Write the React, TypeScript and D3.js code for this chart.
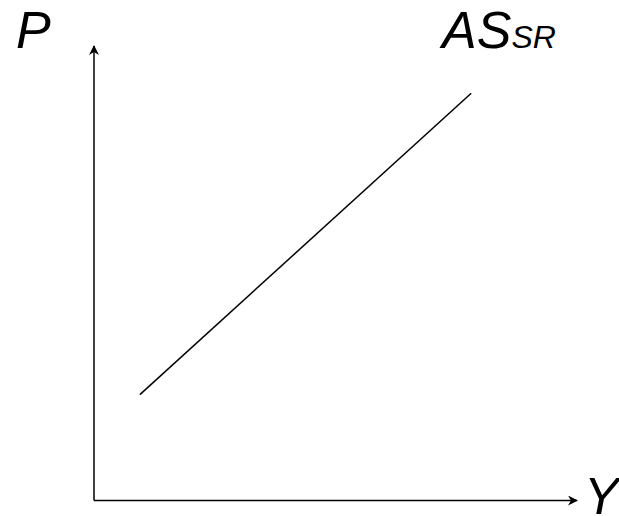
import React from "react";
import * as d3 from "d3";

// supply curve endpoints (domain units)
const curveX = [0.95, 7.81];
const curveY = [2.33, 8.96];
const axisLabels = ["P", "Y"];
const curveLabel = ["AS", "SR"];

const App = () => {
  const svgRef = React.useRef<SVGSVGElement | null>(null);
  const width = 619;
  const height = 516;

  React.useEffect(() => {
    const svg = d3.select(svgRef.current);
    svg.selectAll("*").remove();

    const x = d3.scaleLinear().domain([0, 10]).range([94, 577]);
    const y = d3.scaleLinear().domain([0, 10]).range([500.5, 46]);

    // arrow heads
    const defs = svg.append("defs");
    defs
      .append("marker")
      .attr("id", "arr")
      .attr("viewBox", "0 0 10 10")
      .attr("refX", 9)
      .attr("refY", 5)
      .attr("markerWidth", 10)
      .attr("markerHeight", 10)
      .attr("markerUnits", "userSpaceOnUse")
      .attr("orient", "auto")
      .append("path")
      .attr("d", "M0,0 L10,5 L0,10 L3,5 Z")
      .attr("fill", "#000");

    const font = "'Liberation Sans', Arial, sans-serif";

    // y axis
    svg
      .append("line")
      .attr("x1", x(0))
      .attr("y1", y(0))
      .attr("x2", x(0))
      .attr("y2", y(10))
      .attr("stroke", "#000")
      .attr("stroke-width", 1.5)
      .attr("marker-end", "url(#arr)");
    // x axis
    svg
      .append("line")
      .attr("x1", x(0))
      .attr("y1", y(0))
      .attr("x2", x(10))
      .attr("y2", y(0))
      .attr("stroke", "#000")
      .attr("stroke-width", 1.5)
      .attr("marker-end", "url(#arr)");

    // AS curve
    const pts = curveX.map((d, i) => [x(d), y(curveY[i])] as [number, number]);
    svg
      .append("path")
      .attr("d", d3.line()(pts))
      .attr("fill", "none")
      .attr("stroke", "#000")
      .attr("stroke-width", 1.5);

    // labels
    svg
      .append("text")
      .attr("x", 16)
      .attr("y", 48)
      .attr("font-family", font)
      .attr("font-style", "italic")
      .attr("font-size", 52)
      .text(axisLabels[0]);
    svg
      .append("text")
      .attr("x", 584)
      .attr("y", 514)
      .attr("font-family", font)
      .attr("font-style", "italic")
      .attr("font-size", 52)
      .text(axisLabels[1]);
    const t = svg
      .append("text")
      .attr("x", 442)
      .attr("y", 48)
      .attr("font-family", font)
      .attr("font-style", "italic")
      .attr("font-size", 52);
    t.append("tspan").text(curveLabel[0]);
    t.append("tspan").attr("font-size", 32).text(curveLabel[1]);
  }, []);

  return (
    <svg
      ref={svgRef}
      width={width}
      height={height}
      style={{ position: "absolute", left: 0, top: 0, background: "#fff" }}
    />
  );
};

export default App;
